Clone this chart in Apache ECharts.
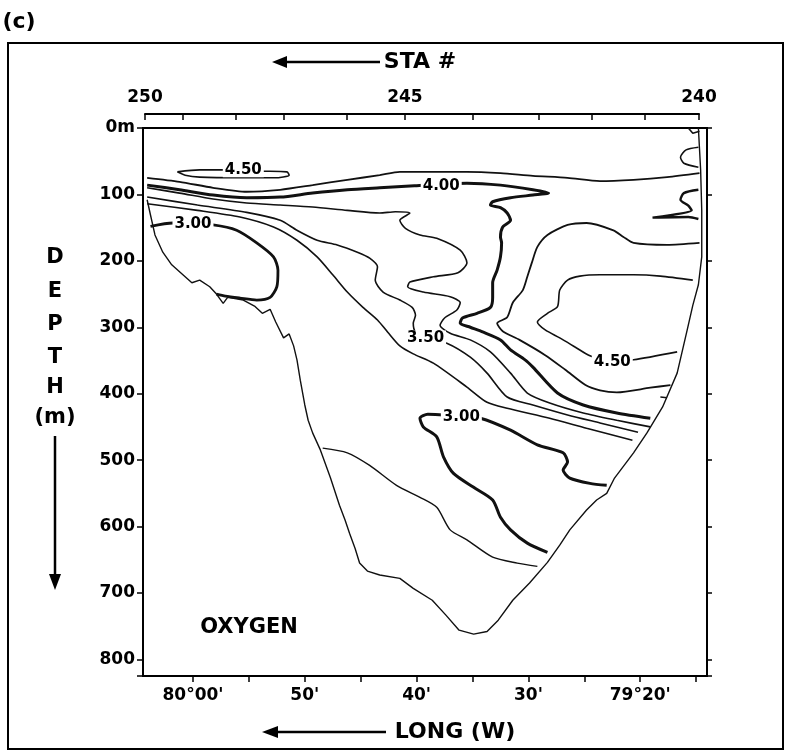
<!DOCTYPE html>
<html><head><meta charset="utf-8">
<script src="https://cdn.jsdelivr.net/npm/echarts@6/dist/echarts.min.js"></script>
<style>html,body{margin:0;padding:0;background:#fff;}#c{width:791px;height:752px;}</style>
</head><body><div id="c"></div>
<script>
// ---- axes data ----
const stationNum = [250,249,248,247,246,245,244,243,242,241,240];
const stationLon = [64.29,60.89,56.15,51.86,46.23,41.04,34.96,29.05,24.31,19.57,14.74];
const stationLabeled = [250,245,240];
const lonTicks = [15,20,25,30,35,40,45,50,55,60];
const lonLabelValues = [20,30,40,50,60];
const lonLabelText = ["79°20'","30'","40'","50'","80°00'"];
const depthTicks = [0,100,200,300,400,500,600,700,800];
const depthLabelText = ["0m","100","200","300","400","500","600","700","800"];

// ---- section outline (bathymetry) [minutes W of 79°, depth m] ----
const bathymetry = [[64.1,108],[63.8,131],[63.4,161],[62.7,187],[61.9,206],[60.9,221],[60.1,233],[59.4,229],[58.5,239],[57.9,250],[57.3,264],[56.9,255],[56.5,256],[55.5,259],[54.5,268],[53.8,279],[53.1,273],[52.6,292],[51.9,316],[51.4,310],[51.0,328],[50.7,349],[50.4,380],[50.0,417],[49.7,440],[49.3,459],[48.6,485],[47.7,527],[46.9,568],[46.4,590],[46.0,610],[45.5,633],[45.1,655],[44.4,667],[43.3,673],[41.5,678],[40.3,693],[38.6,711],[37.4,733],[36.2,756],[34.9,762],[33.7,758],[32.7,741],[31.4,711],[29.9,685],[28.3,654],[27.2,628],[26.3,605],[24.8,575],[23.9,560],[23.0,550],[22.3,527],[20.6,489],[19.4,459],[18.0,420],[16.7,369],[15.8,304],[15.3,267],[14.8,236],[14.5,194],[14.5,124],[14.6,63],[14.8,0]];

// ---- oxygen contours ----
const c450Left = [[61.4,66],[59.4,63],[57.1,63],[53.8,65],[51.6,66],[51.4,71],[52.7,75],[55.8,75],[59.4,74],[60.7,71],[61.4,66]];
const cTop = [[64.1,75],[61.2,81],[58.2,90],[55.2,96],[52.2,93],[49.3,86],[46.2,78],[43.3,71],[41.5,66],[38.5,66],[35.5,66],[32.5,68],[29.6,72],[26.5,75],[23.6,80],[20.6,78],[17.6,74],[14.7,68]];
const c400 = [[64.1,86],[61.2,93],[58.2,101],[55.2,105],[52.2,104],[49.3,98],[46.2,93],[43.3,90],[40.2,87],[35.5,83],[32.5,86],[29.6,93],[28.2,98],[29.6,101],[31.6,105],[33.2,111],[33.4,116],[32.5,120],[31.9,128],[31.6,139],[32.3,149],[32.5,164],[32.4,173],[32.5,194],[32.8,214],[33.2,233],[33.2,255],[33.4,270],[34.6,279],[35.9,286],[36.1,294],[35.2,300],[34.1,307],[32.5,319],[31.6,334],[30.3,349],[29.6,360],[27.4,399],[25.1,417],[22.1,429],[19.1,437]];
const cTongue = [[64.1,90],[61.2,98],[58.2,107],[55.2,113],[52.2,116],[49.3,119],[46.2,124],[43.3,128],[41.9,126],[40.6,128],[41.5,139],[41.0,151],[39.7,161],[38.2,166],[36.1,184],[35.5,203],[36.3,218],[38.5,224],[40.6,232],[40.8,239],[39.4,247],[37.0,254],[36.1,263],[36.4,274],[37.5,286],[37.9,297],[37.0,309],[35.2,319],[33.4,337],[31.6,369],[30.1,399],[28.1,414],[25.1,429],[22.1,440],[19.1,450]];
const c350 = [[64.1,104],[59.6,116],[55.2,127],[52.2,139],[50.7,154],[48.9,169],[47.1,176],[45.3,187],[44.2,196],[43.5,209],[43.7,229],[43.0,247],[41.5,259],[40.4,270],[40.1,282],[40.3,294],[40.1,307],[39.2,316],[37.3,324],[35.2,345],[33.7,369],[31.9,405],[29.6,417],[26.5,432],[23.6,444],[20.2,458]];
const cLowBundle = [[64.1,114],[59.6,124],[55.8,134],[52.8,149],[50.7,169],[48.9,194],[47.5,221],[46.2,247],[44.8,270],[43.5,289],[42.6,307],[41.5,328],[40.3,340],[38.5,354],[35.5,390],[33.7,413],[31.9,422],[28.1,437],[24.8,452],[20.7,470]];
const c425Right = [[14.7,173],[17.6,176],[20.6,173],[21.5,164],[22.4,154],[24.8,143],[26.5,146],[28.3,161],[29.2,179],[29.7,203],[30.1,224],[30.5,244],[31.4,263],[31.9,285],[32.8,294],[32.3,306],[30.8,319],[28.5,342],[26.7,364],[24.9,387],[23.6,395],[22.1,398],[19.1,391],[17.3,387]];
const c450Right = [[15.3,229],[18.2,223],[20.6,221],[23.6,221],[25.4,223],[26.5,229],[27.2,244],[27.4,269],[28.3,279],[29.2,292],[28.5,304],[27.2,316],[25.8,330],[24.5,343],[22.5,352],[20.6,349],[16.7,337]];
const c300Upper = [[63.8,148],[61.8,143],[60.0,145],[58.2,146],[56.1,154],[54.3,173],[52.8,194],[52.4,214],[52.5,239],[53.1,255],[54.3,259],[55.8,256],[57.1,253],[57.9,250]];
const c300Lower = [[23.0,538],[24.5,535],[26.3,527],[26.9,515],[26.5,503],[26.9,489],[29.2,477],[31.6,455],[34.3,437],[36.0,435],[37.6,432],[39.0,431],[39.7,437],[39.4,450],[38.2,465],[37.6,495],[36.7,520],[34.9,541],[33.2,560],[32.5,586],[31.6,605],[30.1,625],[28.3,639]];
const cDeep = [[48.4,482],[46.2,489],[44.2,508],[41.8,538],[39.7,556],[38.2,571],[37.0,605],[35.5,620],[33.2,646],[31.0,655],[29.2,660]];
const wallBump1 = [[14.8,29],[15.9,33],[16.4,44],[16.1,53],[14.8,59]];
const wallBump2 = [[14.8,93],[16.1,98],[16.4,108],[15.7,117],[15.4,124],[18.9,135],[15.7,134],[14.8,137]];
const wallCorner = [[15.7,0],[15.3,8],[14.7,5]];
const shortDash = [[18.2,405],[17.6,406]];

// ---- contour labels ----
const contourLabelText = ["4.50","4.00","3.00","3.50","4.50","3.00"];
const contourLabelLon  = [55.5,37.8,60.0,39.2,22.5,36.0];
const contourLabelDepth= [63,87,145,316,352,435];

const FONT = 'DejaVu Sans';
const chart = echarts.init(document.getElementById('c'), null, {renderer:'canvas'});

function contour(data, width, smooth) {
  return {type:'line', xAxisIndex:0, yAxisIndex:0, data:data, symbol:'none', showSymbol:false,
    smooth: smooth === undefined ? 0.25 : smooth, silent:true, z:3,
    lineStyle:{color:'#111', width:width}};
}
const txt = (t,x,y,size,extra) => Object.assign({type:'text', x:x, y:y, silent:true,
  style:{text:t, font:'bold '+size+'px '+FONT, fill:'#000', textAlign:'center', textVerticalAlign:'middle'}}, extra||{});

const option = {
  animation:false,
  backgroundColor:'#fff',
  grid:[
    {left:143, top:128, width:564, height:548, show:true, borderColor:'#000', borderWidth:2, backgroundColor:'transparent'},
    {left:145, top:114, width:554, height:10, show:false}
  ],
  xAxis:[
    {gridIndex:0, type:'value', inverse:true, min:14.03, max:64.47, position:'bottom',
     axisLine:{show:true, onZero:false, lineStyle:{color:'#000', width:2}},
     axisTick:{show:true, customValues:lonTicks, length:6, inside:false, lineStyle:{color:'#000', width:1.5}},
     axisLabel:{show:true, customValues:lonLabelValues, margin:11, color:'#000', fontFamily:FONT, fontSize:17, fontWeight:'bold',
       formatter:function(v){const i=lonLabelValues.indexOf(Math.round(v)); return i>=0?lonLabelText[i]:'';}},
     splitLine:{show:false}},
    {gridIndex:1, type:'value', inverse:true, min:14.74, max:64.29, position:'top',
     axisLine:{show:true, onZero:false, lineStyle:{color:'#000', width:2}},
     axisTick:{show:true, customValues:stationLon, length:6, inside:true, lineStyle:{color:'#000', width:1.5}},
     axisLabel:{show:true, customValues:stationLabeled.map(s=>stationLon[stationNum.indexOf(s)]), margin:8, color:'#000', fontFamily:FONT, fontSize:17, fontWeight:'bold',
       formatter:function(v){let best=0,bd=1e9; stationLon.forEach((l,i)=>{if(Math.abs(l-v)<bd){bd=Math.abs(l-v);best=i;}}); return String(stationNum[best]);}},
     splitLine:{show:false}}
  ],
  yAxis:[
    {gridIndex:0, type:'value', inverse:true, min:0, max:825, interval:100, position:'left',
     axisLine:{show:true, onZero:false, lineStyle:{color:'#000', width:2}},
     axisTick:{show:true, length:6, inside:false, lineStyle:{color:'#000', width:1.5}},
     axisLabel:{show:true, margin:8, color:'#000', fontFamily:FONT, fontSize:17, fontWeight:'bold',
       formatter:function(v){const i=depthTicks.indexOf(v); return i>=0?depthLabelText[i]:'';}},
     splitLine:{show:false}},
    {gridIndex:0, type:'value', inverse:true, min:0, max:825, interval:100, position:'right',
     axisLine:{show:true, onZero:false, lineStyle:{color:'#000', width:2}},
     axisTick:{show:true, length:5, inside:false, lineStyle:{color:'#000', width:1.5}},
     axisLabel:{show:false}, splitLine:{show:false}},
    {gridIndex:1, type:'value', show:false, min:0, max:1}
  ],
  series:[
    contour(bathymetry, 1.4, 0),
    contour(c450Left, 1.6),
    contour(cTop, 1.8),
    contour(c400, 3),
    contour(cTongue, 1.6),
    contour(c350, 1.6),
    contour(cLowBundle, 1.6),
    contour(c425Right, 1.8),
    contour(c450Right, 1.6),
    contour(c300Upper, 2.8),
    contour(c300Lower, 3),
    contour(cDeep, 1.4),
    contour(wallBump1, 1.6),
    contour(wallBump2, 2.4),
    contour(wallCorner, 1.6, 0),
    contour(shortDash, 1.6, 0),
    {type:'scatter', xAxisIndex:0, yAxisIndex:0, z:10, silent:true, symbolSize:1,
     itemStyle:{color:'rgba(0,0,0,0)', opacity:1},
     data: contourLabelText.map((t,i)=>[contourLabelLon[i], contourLabelDepth[i], t]),
     label:{show:true, position:'inside', formatter:p=>p.value[2], color:'#000', opacity:1, fontFamily:FONT, fontSize:15, fontWeight:'bold',
       backgroundColor:'#fff', padding:[0,2]},
     emphasis:{disabled:true}}
  ],
  graphic:[
    {type:'rect', shape:{x:8, y:43, width:775, height:706}, style:{fill:'none', stroke:'#000', lineWidth:2}, z:0, silent:true},
    txt('(c)', 19, 22, 22),
    {type:'line', shape:{x1:284, y1:62, x2:380, y2:62}, style:{stroke:'#000', lineWidth:2.5}},
    {type:'polygon', shape:{points:[[272,62],[287,56],[287,68]]}, style:{fill:'#000'}},
    txt('STA #', 420, 62, 22),
    {type:'line', shape:{x1:275, y1:732, x2:386, y2:732}, style:{stroke:'#000', lineWidth:2.5}},
    {type:'polygon', shape:{points:[[262,732],[278,726],[278,738]]}, style:{fill:'#000'}},
    txt('LONG (W)', 455, 732, 22),
    txt('D', 55, 258, 21),
    txt('E', 55, 292, 21),
    txt('P', 55, 325, 21),
    txt('T', 55, 358, 21),
    txt('H', 55, 388, 21),
    txt('(m)', 55, 418, 21),
    {type:'line', shape:{x1:55, y1:436, x2:55, y2:578}, style:{stroke:'#000', lineWidth:2.5}},
    {type:'polygon', shape:{points:[[55,590],[49,574],[61,574]]}, style:{fill:'#000'}},
    txt('OXYGEN', 249, 628, 21)
  ]
};
chart.setOption(option);
</script>
</body></html>
